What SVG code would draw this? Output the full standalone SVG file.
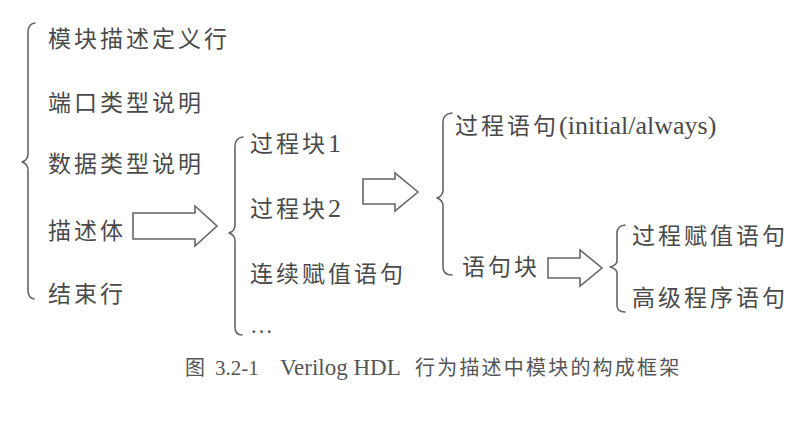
<svg xmlns="http://www.w3.org/2000/svg" width="811" height="427" viewBox="0 0 811 427">
<style>
.t{font-family:"Liberation Serif","Noto Sans CJK SC",serif;font-size:23px;fill:#4a4a4a;letter-spacing:3px}
.lat{font-size:26px;letter-spacing:0}
.cap{font-family:"Liberation Serif","Noto Sans CJK SC",serif;font-size:20px;fill:#555}
.br{fill:none;stroke:#666;stroke-width:1.6;stroke-linejoin:round;stroke-linecap:round}
.ar{fill:#fff;stroke:#666;stroke-width:1.6;stroke-linejoin:miter}
</style>
<rect width="811" height="427" fill="#fff"/>
<g id="connectors">
<path class="br" d="M35,23 Q28,24 28,32 L28,154 Q28,160 22,162 Q28,164 28,170 L28,290 Q28,298 34,299"/>
<path class="br" d="M243,137 Q235,138 235,146 L235,225 Q235,231 229,233 Q235,235 235,241 L235,327 Q235,335 242,335"/>
<path class="br" d="M452,113 Q443,114 443,122 L443,190 Q443,196 437,198 Q443,200 443,206 L443,267 Q443,275 452,275"/>
<path class="br" d="M625,225 Q617,226 617,233 L617,261 Q617,265 610,267 Q617,269 617,273 L617,305 Q617,312 625,312"/>
<polygon class="ar" points="133,213 195,213 195,206 217,226 195,246 195,239 133,239"/>
<polygon class="ar" points="363,179 395,179 395,173 418,192 395,211 395,204 363,204"/>
<polygon class="ar" points="548,258 580,258 580,250 602,268 580,286 580,278 548,278"/>
</g>
<g id="n1"><text class="t" x="48" y="47">模块描述定义行</text></g>
<g id="n2"><text class="t" x="48" y="111">端口类型说明</text></g>
<g id="n3"><text class="t" x="48" y="172">数据类型说明</text></g>
<g id="n4"><text class="t" x="48" y="239">描述体</text></g>
<g id="n5"><text class="t" x="48" y="302">结束行</text></g>
<g id="m1"><text class="t" x="250" y="152">过程块<tspan class="lat">1</tspan></text></g>
<g id="m2"><text class="t" x="250" y="217">过程块<tspan class="lat">2</tspan></text></g>
<g id="m3"><text class="t" x="250" y="282">连续赋值语句</text></g>
<g id="m4"><text class="t" x="250" y="333">…</text></g>
<g id="r1"><text class="t" x="455" y="134">过程语句<tspan class="lat">(initial/always)</tspan></text></g>
<g id="r2"><text class="t" x="462" y="275">语句块</text></g>
<g id="s1"><text class="t" x="632" y="244">过程赋值语句</text></g>
<g id="s2"><text class="t" x="632" y="306">高级程序语句</text></g>
<g id="caption"><text class="cap" y="375"><tspan x="185">图</tspan><tspan x="215" font-size="21">3.2-1</tspan><tspan x="280" font-size="23">Verilog HDL</tspan><tspan x="415" letter-spacing="2.2">行为描述中模块的构成框架</tspan></text></g>
</svg>
